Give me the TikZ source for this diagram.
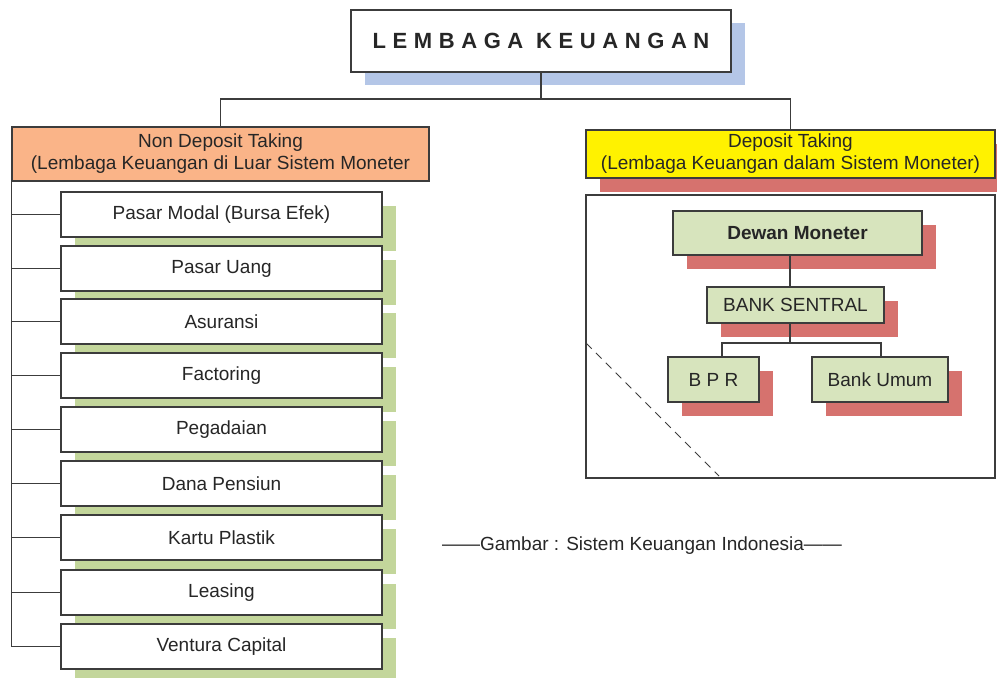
\documentclass[tikz,border=0pt]{standalone}
\usepackage{fontspec}
\setmainfont{Liberation Sans}
\newfontfamily\spacedfont[LetterSpace=30]{Liberation Sans}
\usetikzlibrary{shadows}

\definecolor{shblue}{RGB}{180,198,231}
\definecolor{shred}{RGB}{214,114,110}
\definecolor{shgreen}{RGB}{195,214,155}
\definecolor{hdorange}{RGB}{250,180,136}
\definecolor{boxgreen}{RGB}{215,228,189}
\definecolor{linegray}{RGB}{60,60,60}

\tikzset{
  box/.style={draw=linegray, line width=1.1pt, inner sep=0pt, align=center,
    font=\fontsize{19}{22}\selectfont, text=black!85},
  blueshadow/.style={drop shadow={shadow xshift=14pt, shadow yshift=-13pt, fill=shblue, opacity=1}},
  redshadow/.style={drop shadow={shadow xshift=14pt, shadow yshift=-14pt, fill=shred, opacity=1}},
  greenshadow/.style={drop shadow={shadow xshift=14pt, shadow yshift=-14pt, fill=shgreen, opacity=1}},
  conn/.style={draw=linegray, line width=1.1pt},
}

\begin{document}
\begin{tikzpicture}[x=1pt,y=-1pt]
        \useasboundingbox (0,0) rectangle (997,678);

        % kop
        \node[box, blueshadow, fill=white, minimum width=380pt, minimum height=62pt,
              font=\fontsize{22}{26}\spacedfont\bfseries] (lk) at (541,41) {LEMBAGA KEUANGAN};

        % kiri: non deposit taking
        \node[box, fill=hdorange, minimum width=417pt, minimum height=54pt] (nondep) at (220.5,154)
              {Non Deposit Taking\\(Lembaga Keuangan di Luar Sistem Moneter};

        \foreach \name/\yy/\txt in {modal/214.5/Pasar Modal (Bursa Efek), uang/268.5/Pasar Uang,
              asur/321.5/Asuransi, fact/375.5/Factoring, gadai/429.5/Pegadaian,
              pensiun/483.5/Dana Pensiun, kartu/537.5/Kartu Plastik, leas/592.5/Leasing,
              ventura/646.5/Ventura Capital}
        {
          \node[box, greenshadow, fill=white, minimum width=321pt, minimum height=45pt] (\name) at (221.5,\yy) {\txt};
          \draw[conn] (nondep.south west |- \name.west) -- (\name.west);
        }
        \draw[conn] (nondep.south west) -- (nondep.south west |- ventura.west);

        % kanan: deposit taking
        \node[box, redshadow, fill=yellow, minimum width=409pt, minimum height=48pt] (dep) at (790.5,154)
              {Deposit Taking\\(Lembaga Keuangan dalam Sistem Moneter)};
        \node[box, fill=white, minimum width=409pt, minimum height=283pt] (depbox) at (790.5,336.5) {};

        \node[box, redshadow, fill=boxgreen, minimum width=249pt, minimum height=44pt,
              font=\fontsize{19}{22}\selectfont\bfseries] (dewan) at (797.5,233) {Dewan Moneter};
        \node[box, redshadow, fill=boxgreen, minimum width=177pt, minimum height=36pt] (sentral) at (795.5,305) {BANK SENTRAL};
        \node[box, redshadow, fill=boxgreen, minimum width=91pt, minimum height=45pt] (bpr) at (713.5,379.5) {B P R};
        \node[box, redshadow, fill=boxgreen, minimum width=136pt, minimum height=45pt] (umum) at (880,379.5) {Bank Umum};

        %
        \coordinate (trunk) at (790,343);
        \coordinate (bprin) at (722,343);
        \coordinate (umumin) at (881,343);
        \draw[conn] (trunk |- dewan.south) -- (trunk |- sentral.north);
        \draw[conn] (trunk |- sentral.south) -- (trunk);
        \draw[conn] (bprin |- bpr.north) -- (bprin) -- (umumin) -- (umumin |- umum.north);

        \coordinate (dashA) at (586,343);
        \coordinate (dashB) at (719,476);
        \draw[linegray, line width=1pt, dash pattern=on 8pt off 6pt] (dashA) -- (dashB);

        % sambungan kop
        \coordinate (split) at (541,99);
        \draw[conn] (lk.south) -- (split);
        \draw[conn] (nondep.north) |- (split) -| (dep.north);

        % keterangan
        \node[font=\fontsize{19}{22}\selectfont, text=black!85] (caption) at (642,546)
              {——Gambar : Sistem Keuangan Indonesia——};

\end{tikzpicture}
\end{document}
